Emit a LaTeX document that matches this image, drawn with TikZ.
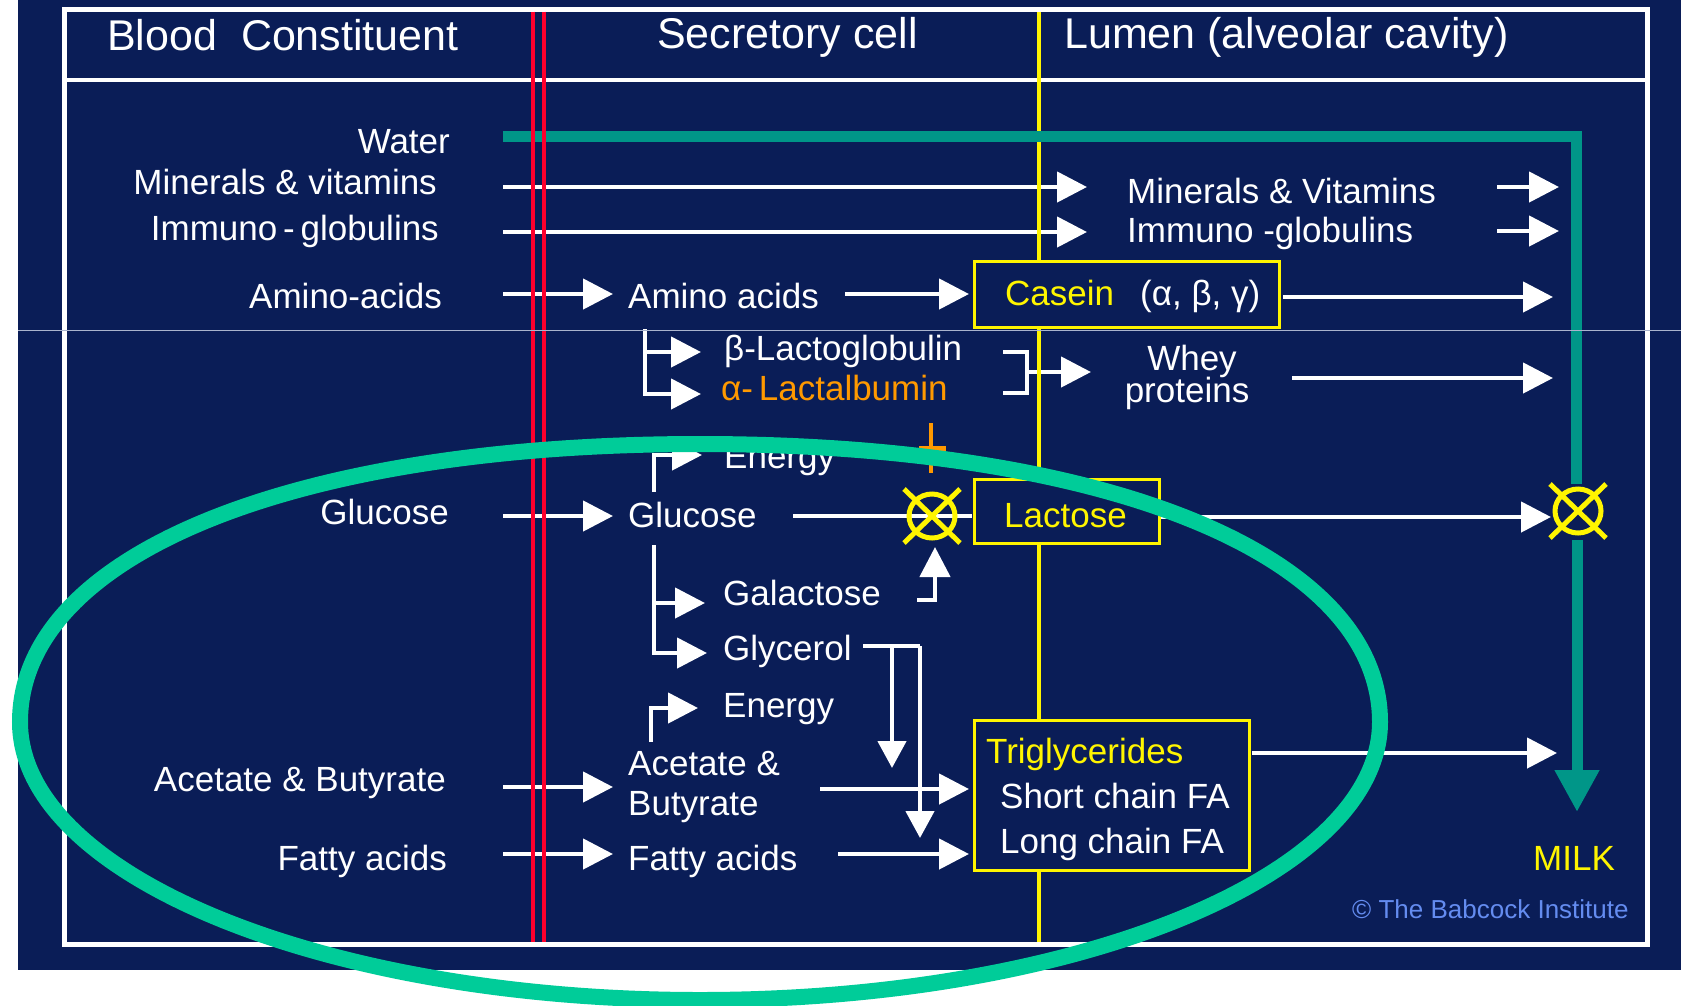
\documentclass[tikz,border=0pt]{standalone}
\usepackage{fontspec}
\setmainfont{Liberation Sans}
\usetikzlibrary{arrows.meta}
\definecolor{navy}{RGB}{10,29,87}
\definecolor{redline}{RGB}{255,0,45}
\definecolor{ylw}{RGB}{255,245,0}
\definecolor{tealc}{RGB}{0,150,136}
\definecolor{orng}{RGB}{255,153,0}
\definecolor{greenring}{RGB}{0,204,153}
\definecolor{babblue}{RGB}{100,140,240}
\definecolor{artifact}{RGB}{170,180,205}
\begin{document}
\begin{tikzpicture}[x=1pt,y=-1pt,
  txt/.style={inner sep=0pt, text=white, font=\fontsize{35}{40}\selectfont},
  lt/.style={txt, anchor=base west},
  rt/.style={txt, anchor=base east},
  hdr/.style={inner sep=0pt, text=white, anchor=base west, font=\fontsize{43}{48}\selectfont},
  flow/.style={draw=white, line width=4.5pt},
  arr/.style={flow, -{Triangle[width=30pt,length=30pt]}},
  darr/.style={flow, -{Triangle[width=28pt,length=27pt]}},
  ybox/.style={draw=ylw, line width=3pt, fill=navy, inner sep=0pt},
  waterline/.style={draw=tealc, line width=11pt},
  xcirc/.pic={\draw[ylw, line width=5pt] (0,0) ellipse [x radius=23pt, y radius=22pt];
              \draw[ylw, line width=5pt] (-28,-27) -- (28,27) (-28,27) -- (28,-27);}
]
\useasboundingbox (0,0) rectangle (1681,1005);
% background
\fill[navy] (18,0) rectangle (1681,970);

% ---------- coordinates ----------
\coordinate (w0) at (503,136);
\coordinate (wc) at (1576,136);
\coordinate (w1) at (1576,484);
\coordinate (w2) at (1577,540);
\coordinate (w3) at (1577,812);

\coordinate (m0) at (503,187);   \coordinate (m1) at (1087,187);
\coordinate (i0) at (503,232);   \coordinate (i1) at (1087,232);
\coordinate (mr0) at (1497,187); \coordinate (mr1) at (1559,187);
\coordinate (ir0) at (1497,231); \coordinate (ir1) at (1559,231);
\coordinate (a0) at (503,294);   \coordinate (a1) at (613,294);
\coordinate (a2) at (845,294);   \coordinate (a3) at (969,294);
\coordinate (c0) at (1283,297);  \coordinate (c1) at (1553,297);
\coordinate (lb0) at (645,329);  \coordinate (lbm) at (645,352);
\coordinate (lb1) at (645,394);  \coordinate (lbu) at (701,352);
\coordinate (lb2) at (701,394);
\coordinate (rb0) at (1003,352); \coordinate (rb1) at (1027,352);
\coordinate (rb2) at (1027,393); \coordinate (rb3) at (1003,393);
\coordinate (rbm) at (1027,372); \coordinate (rbt) at (1091,372);
\coordinate (wh0) at (1292,378); \coordinate (wh1) at (1553,378);
\coordinate (e10) at (654,492);  \coordinate (e11) at (654,455);
\coordinate (e12) at (702,455);
\coordinate (g0) at (503,516);   \coordinate (g1) at (613,516);
\coordinate (g2) at (793,516);   \coordinate (g3) at (972,516);
\coordinate (gd0) at (654,545);  \coordinate (gdm) at (654,603);
\coordinate (gd1) at (654,653);  \coordinate (gdg) at (705,603);
\coordinate (gdy) at (707,653);
\coordinate (ga0) at (917,600);  \coordinate (ga1) at (935,600);
\coordinate (ga2) at (935,547);
\coordinate (l0) at (1159,517);  \coordinate (l1) at (1551,517);
\coordinate (gy0) at (863,646);  \coordinate (gy1) at (920,646);
\coordinate (gyA) at (892,646);  \coordinate (gyA1) at (892,768);
\coordinate (gyB1) at (920,838);
\coordinate (e20) at (651,742);  \coordinate (e21) at (651,708);
\coordinate (e22) at (698,708);
\coordinate (ac0) at (503,787);  \coordinate (ac1) at (613,787);
\coordinate (ac2) at (820,789);  \coordinate (ac3) at (969,789);
\coordinate (f0) at (503,854);   \coordinate (f1) at (613,854);
\coordinate (f2) at (838,854);   \coordinate (f3) at (969,854);
\coordinate (t0) at (1252,753);  \coordinate (t1) at (1557,753);
\coordinate (x1) at (932,516);
\coordinate (x2) at (1578,511);
\coordinate (o0) at (931,423);   \coordinate (o1) at (931,473);
\coordinate (ob0) at (919,449);  \coordinate (ob1) at (946,449);

% ---------- frame ----------
\draw[white, line width=3.5pt] (64,80) -- (1647,80);
\draw[white, line width=5pt] (64,9) rectangle (1647,944);

% ---------- headers ----------
\node[hdr] (hBlood) at (107,50) {Blood\ \ Constituent};
\node[hdr] (hSec) at (657,48) {Secretory cell};
\node[hdr] (hLum) at (1064,48) {Lumen (alveolar cavity)};

% ---------- white flows ----------
\draw[arr] (m0) -- (m1);
\draw[arr] (i0) -- (i1);
\draw[arr] (mr0) -- (mr1);
\draw[arr] (ir0) -- (ir1);
\draw[arr] (a0) -- (a1);
\draw[arr] (a2) -- (a3);
\draw[arr] (c0) -- (c1);
\draw[arr] (lb0) -- (lb1) -- (lb2);
\draw[arr] (lbm) -- (lbu);
\draw[flow] (rb0) -- (rb1) -- (rb2) -- (rb3);
\draw[arr] (rbm) -- (rbt);
\draw[arr] (wh0) -- (wh1);
\draw[arr] (e10) -- (e11) -- (e12);
\draw[arr] (g0) -- (g1);
\draw[flow] (g2) -- (g3);
\draw[arr] (gd0) -- (gd1) -- (gdy);
\draw[arr] (gdm) -- (gdg);
\draw[arr] (ga0) -- (ga1) -- (ga2);
\draw[arr] (l0) -- (l1);
\draw[flow] (gy0) -- (gy1);
\draw[darr] (gyA) -- (gyA1);
\draw[darr] (gy1) -- (gyB1);
\draw[arr] (e20) -- (e21) -- (e22);
\draw[arr] (ac0) -- (ac1);
\draw[arr] (ac2) -- (ac3);
\draw[arr] (f0) -- (f1);
\draw[arr] (f2) -- (f3);
\draw[arr] (t0) -- (t1);

% ---------- membranes ----------
\draw[ylw, line width=4pt] (1039,11.5) -- (1039,941.5);
\draw[waterline] (w0) -- (wc) -- (w1);
\draw[waterline, -{Triangle[width=42pt,length=42pt]}] (w2) -- (w3);
\draw[redline, line width=4pt] (532.5,11.5) -- (532.5,941.5);
\draw[redline, line width=4pt] (543.5,11.5) -- (543.5,941.5);

% ---------- boxes ----------
\node[ybox, minimum width=305pt, minimum height=66pt] (casein) at (1126.5,294) {};
\node[ybox, minimum width=185pt, minimum height=64pt] (lactose) at (1066.5,511) {};
\node[ybox, minimum width=275pt, minimum height=150pt] (trig) at (1111.5,795) {};
\node[lt, text=ylw] (caseinT) at (1005,305) {Casein};
\node[lt] (caseinG) at (1140,305) {(α, β, γ)};
\node[lt, text=ylw] (lactoseT) at (1004,527) {Lactose};
\node[lt, text=ylw] (trigT) at (986,763) {Triglycerides};
\node[lt] (shortFA) at (1000,808) {Short chain FA};
\node[lt] (longFA) at (1000,853) {Long chain FA};

% ---------- left column ----------
\node[rt] (waterL) at (450,153) {Water};
\node[rt] (minL) at (437,194) {Minerals \& vitamins};
\node[rt] (immL) at (439,240) {Immuno\,-\,globulins};
\node[rt] (aminoL) at (442,308) {Amino-acids};
\node[rt] (glucL) at (449,524) {Glucose};
\node[rt] (acetL) at (446,791) {Acetate \& Butyrate};
\node[rt] (fattyL) at (447,870) {Fatty acids};

% ---------- secretory cell ----------
\node[lt] (aminoS) at (628,308) {Amino acids};
\node[lt] (lactoglob) at (724,360) {β-Lactoglobulin};
\node[lt, text=orng] (lactalb) at (721,400) {α-\,Lactalbumin};
\node[lt] (energy1) at (724,468) {Energy};
\node[lt] (glucS) at (628,527) {Glucose};
\node[lt] (galact) at (723,605) {Galactose};
\node[lt] (glycerol) at (723,660) {Glycerol};
\node[lt] (energy2) at (723,717) {Energy};
\node[lt] (acetS1) at (628,775) {Acetate \&};
\node[lt] (acetS2) at (628,815) {Butyrate};
\node[lt] (fattyS) at (628,870) {Fatty acids};

% ---------- lumen ----------
\node[lt] (minR) at (1127,203) {Minerals \& Vitamins};
\node[lt] (immR) at (1127,242) {Immuno -globulins};
\node[txt, anchor=base] (whey) at (1192,370) {Whey};
\node[txt, anchor=base] (proteins) at (1187,402) {proteins};
\node[lt, text=ylw] (milk) at (1533,870) {MILK};
\node[inner sep=0pt, anchor=base west, text=babblue, font=\fontsize{26}{29}\selectfont] (copyr) at (1352,918) {© The Babcock Institute};

% ---------- symbols ----------
\draw[orng, line width=4.5pt] (o0) -- (o1);
\draw[orng, line width=7pt] (ob0) -- (ob1);
\pic at (x1) {xcirc};
\pic at (x2) {xcirc};

% ---------- green ring ----------
\draw[greenring, line width=16pt]
  (20,722) .. controls (20,555.2) and (292,444) .. (700,444)
  .. controls (1108,444) and (1380,555.2) .. (1380,722)
  .. controls (1380,875.5) and (1075.6,1000) .. (700,1000)
  .. controls (324.4,1000) and (20,875.5) .. (20,722) -- cycle;

% ---------- thin scan line ----------
\draw[artifact, line width=1pt] (18,330) -- (1681,330);
\end{tikzpicture}
\end{document}
